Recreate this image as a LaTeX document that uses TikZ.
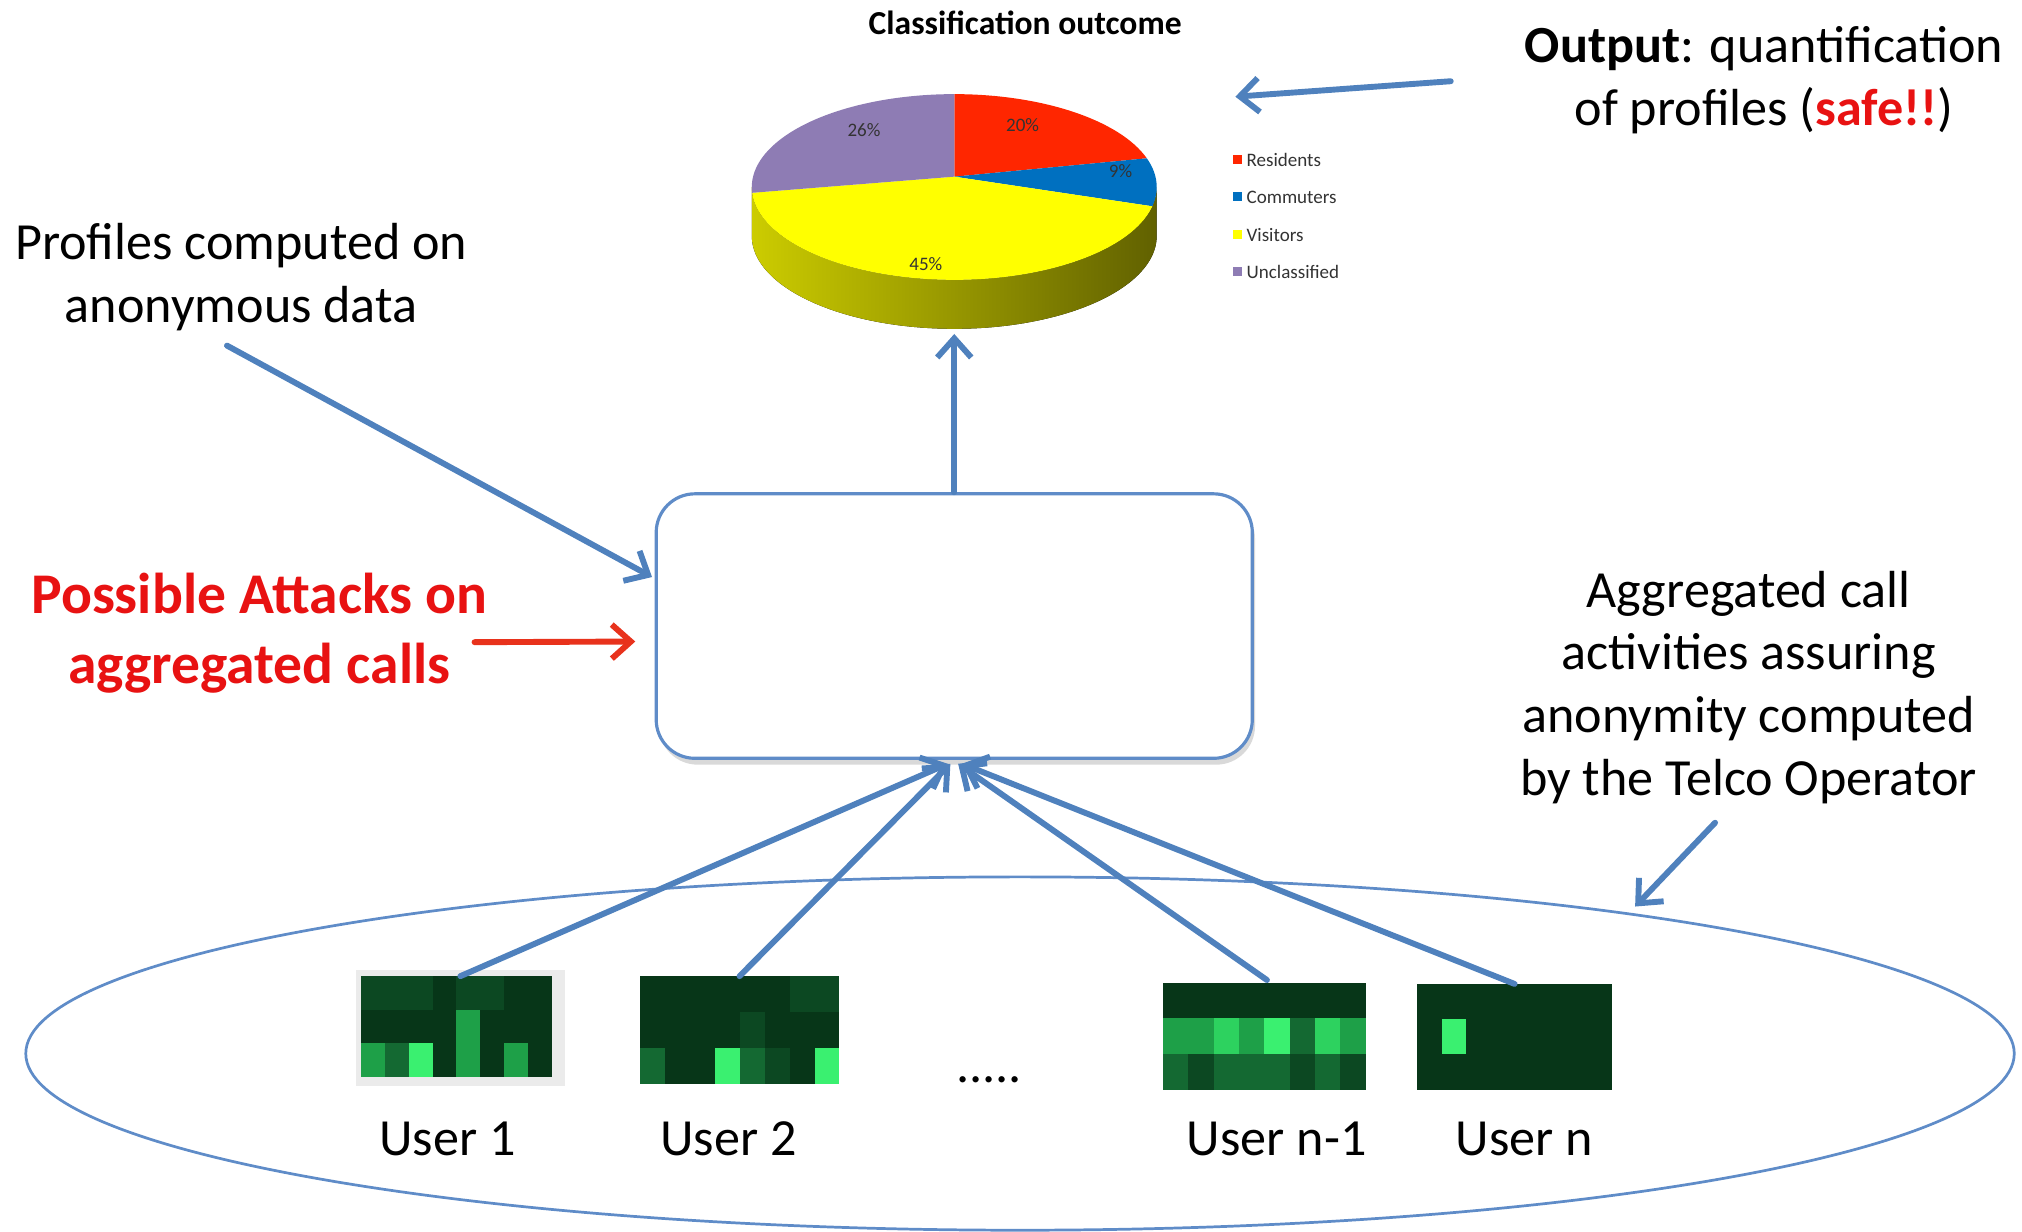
\documentclass[tikz,border=0pt]{standalone}
\usepackage{fontspec}
\setmainfont{Carlito}
\usetikzlibrary{arrows.meta,calc,shadows}

\definecolor{arrowblue}{RGB}{79,129,189}
\definecolor{lineblue}{RGB}{95,140,200}
\definecolor{alertred}{RGB}{232,18,18}
\definecolor{arrowred}{RGB}{232,50,28}
\definecolor{pieRed}{RGB}{255,38,0}
\definecolor{pieBlue}{RGB}{0,112,192}
\definecolor{pieYellow}{RGB}{255,255,0}
\definecolor{piePurple}{RGB}{142,124,180}
% heat-map greens, dark to bright
\definecolor{hmA}{RGB}{7,54,24}
\definecolor{hmB}{RGB}{12,72,34}
\definecolor{hmC}{RGB}{20,105,50}
\definecolor{hmD}{RGB}{30,160,72}
\definecolor{hmE}{RGB}{45,210,95}
\definecolor{hmF}{RGB}{58,240,112}

% a 8x3 activity heat map drawn as a named node
\newcommand\heatmap[6]{%
  \node[inner sep=0pt, outer sep=0pt, minimum width=#4*0.01cm,
        minimum height=#5*0.01cm, anchor=north west, fill=hmA] (#1) at (#2,-#3) {};
  \foreach \c [count=\i from 0] in {#6} {%
    \pgfmathtruncatemacro\cc{mod(\i,8)}%
    \pgfmathtruncatemacro\rr{div(\i,8)}%
    \fill[\c] ({#2+\cc*#4/8},{-#3-\rr*#5/3}) rectangle ++({#4/8},{-#5/3});
  }%
}

\begin{document}
\begin{tikzpicture}[x=0.01cm,y=0.01cm,
  lbl/.style={font=\fontsize{11.5}{13.8}\selectfont, align=center, inner sep=0pt},
  alert/.style={font=\fontsize{12.7}{15.3}\selectfont\bfseries, text=alertred,
                align=center, inner sep=0pt},
  tiny/.style={font=\fontsize{4.2}{5}\selectfont, inner sep=0pt, text=black!80},
  flow/.style={draw=arrowblue, line width=1.3pt, line cap=round,
               -{Straight Barb[length=4.2pt,width=7.5pt,line width=1.3pt]}},
  attack/.style={flow, draw=arrowred},
]
\useasboundingbox (0,0) rectangle (1568,-955);

% ---------- pie chart ----------
\node[font=\fontsize{7.4}{9}\selectfont\bfseries, inner sep=0pt] (title) at (795,-18) {Classification outcome};

\def\rx{157}\def\ry{72}
% side wall
\fill[left color=yellow!80!black, middle color=yellow!62!black, right color=yellow!38!black]
  (583,-145) arc[start angle=180,end angle=360,x radius=\rx,y radius=\ry]
  -- ++(0,-38) arc[start angle=360,end angle=180,x radius=\rx,y radius=\ry] -- cycle;
% top face slices
\coordinate (pv) at (740,-137);
\fill[pieRed] (pv) -- (740,-73) arc[start angle=90,end angle=18,x radius=\rx,y radius=\ry] -- cycle;
\fill[pieBlue] (pv) -- ({740+\rx*cos(18)},{-145+\ry*sin(18)})
  arc[start angle=18,end angle=-12,x radius=\rx,y radius=\ry] -- cycle;
\fill[pieYellow] (pv) -- ({740+\rx*cos(-12)},{-145+\ry*sin(-12)})
  arc[start angle=-12,end angle=-176.4,x radius=\rx,y radius=\ry] -- cycle;
\fill[piePurple] (pv) -- ({740+\rx*cos(-176.4)},{-145+\ry*sin(-176.4)})
  arc[start angle=-176.4,end angle=-270,x radius=\rx,y radius=\ry] -- cycle;
\coordinate (piebot) at (740,-259);
\coordinate (pieright) at (958,-75);

\node[tiny] (p20) at (793,-97) {20\%};
\node[tiny] (p9) at (869,-133) {9\%};
\node[tiny] (p45) at (718,-205) {45\%};
\node[tiny] (p26) at (670,-101) {26\%};

% legend
\foreach \col/\name/\yy in {pieRed/Residents/124, pieBlue/Commuters/153,
                            pieYellow/Visitors/182, piePurple/Unclassified/211} {
  \fill[\col] (956,-\yy+4) rectangle ++(7,-7);
  \node[tiny, anchor=west] at (966,-\yy) {\name};
}

% ---------- texts ----------
\node[lbl] (out) at (1368,-62) {\textbf{Output}: quantification\\of profiles (\textcolor{alertred}{\textbf{safe!!}})};
\node[lbl] (prof) at (187,-215) {Profiles computed on\\anonymous data};
\node[alert] (att) at (201,-491) {Possible Attacks on\\aggregated calls};
\node[lbl] (telco) at (1356,-533) {Aggregated call\\activities assuring\\anonymity computed\\by the Telco Operator};

\coordinate (outfrom) at (1125,-63);
\coordinate (proffrom) at (176,-268);
\coordinate (attfrom) at (368,-498);
\coordinate (telcofrom) at (1330,-638);
\coordinate (telcoto) at (1268,-703);

% ---------- aggregation box ----------
\node[draw=lineblue, line width=0.7pt, rounded corners=0.3cm, fill=white,
      minimum width=4.62cm, minimum height=2.05cm,
      drop shadow={shadow xshift=0.6pt, shadow yshift=-1.4pt, opacity=0.3}] (agg) at (740,-485.5) {};

% ---------- users ----------
\draw[lineblue, line width=0.6pt] (791,-817) ellipse[x radius=771, y radius=137];

\fill[black!8] (276,-752) rectangle (438,-842);
\heatmap{u1}{280}{757}{148}{78}{hmB,hmB,hmB,hmA,hmB,hmB,hmA,hmA,
  hmA,hmA,hmA,hmA,hmD,hmA,hmA,hmA,
  hmD,hmC,hmF,hmA,hmD,hmA,hmD,hmA}
\heatmap{u2}{496}{757}{155}{84}{hmA,hmA,hmA,hmA,hmA,hmA,hmB,hmB,
  hmA,hmA,hmA,hmA,hmB,hmA,hmA,hmA,
  hmC,hmA,hmA,hmF,hmC,hmB,hmA,hmF}
\heatmap{u3}{902}{762}{157}{83}{hmA,hmA,hmA,hmA,hmA,hmA,hmA,hmA,
  hmD,hmD,hmE,hmD,hmF,hmC,hmE,hmD,
  hmC,hmB,hmC,hmC,hmC,hmB,hmC,hmB}
\heatmap{u4}{1099}{763}{151}{82}{hmA,hmA,hmA,hmA,hmA,hmA,hmA,hmA,
  hmA,hmF,hmA,hmA,hmA,hmA,hmA,hmA,
  hmA,hmA,hmA,hmA,hmA,hmA,hmA,hmA}

\node[lbl] (l1) at (347,-883) {User 1};
\node[lbl] (l2) at (565,-883) {User 2};
\node[lbl] (l3) at (990,-883) {User n-1};
\node[lbl] (l4) at (1182,-883) {User n};
\node[lbl] (dots) at (767,-837) {.....};

% ---------- connectors ----------
\draw[flow] (agg.north) -- (piebot);
\draw[flow] (outfrom) -- (pieright);
\draw[flow] (proffrom) -- ($(agg.west)+(-2,38)$);
\draw[attack] (attfrom) -- ($(agg.west)+(-15,-12)$);
\draw[flow] (telcofrom) -- (telcoto);
\draw[flow] ($(u1.north)+(3,0)$) -- ($(agg.south)+(-5,-3)$);
\draw[flow] ($(u2.north)+(0,0)$) -- ($(agg.south)+(-3,-3)$);
\draw[flow] ($(u3.north)+(2,2)$) -- ($(agg.south)+(3,-3)$);
\draw[flow] ($(u4.north)+(0,0)$) -- ($(agg.south)+(6,-3)$);
\end{tikzpicture}
\end{document}
